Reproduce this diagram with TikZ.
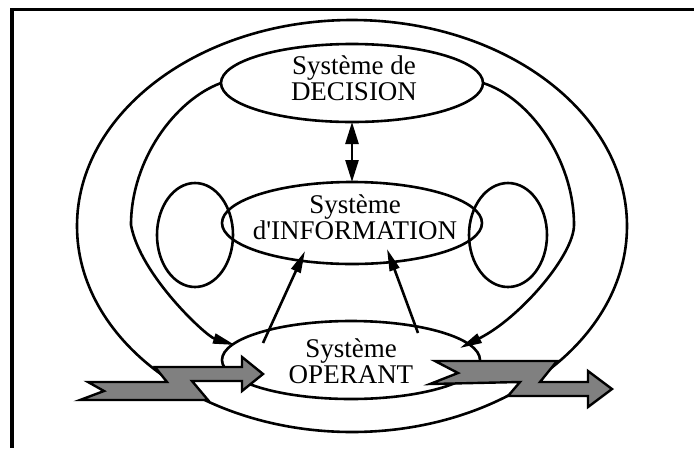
\documentclass[tikz,border=0pt]{standalone}
\usepackage{fontspec}
\setmainfont{Liberation Serif}
% a family without TeX ligatures, so that ' stays a straight apostrophe
\newfontfamily\lblfont{Liberation Serif}
\usetikzlibrary{arrows.meta,shapes.geometric}
\begin{document}
\begin{tikzpicture}[x=1pt,y=-1pt,
  conn/.style={line width=2.6pt},
  sys/.style={draw, ellipse, line width=2.6pt, inner sep=0pt, outer sep=0pt},
  lbl/.style={font=\lblfont\fontsize{27}{26}\selectfont, align=center, inner sep=0pt},
  flux/.style={draw, fill=black!50, line width=2.4pt, line join=miter},
  tip/.style={-{Triangle[length=22pt,width=10pt]}},
  dtip/.style={{Triangle[length=22pt,width=13pt]}-{Triangle[length=22pt,width=13pt]}},
  ]
\useasboundingbox[fill=white] (0,0) rectangle (694,448);
% frame (top and left edges)
\draw[line width=3.2pt] (694,9.5) -- (12,9.5) -- (12,448);

% the enclosing loop
\node[sys, minimum width=550pt, minimum height=412pt] (outer) at (352,226) {};

% the three subsystems
\node[sys, minimum width=262pt, minimum height=78pt] (dec) at (352,83) {};
\node[sys, minimum width=260pt, minimum height=82pt] (inf) at (352,223) {};
\node[sys, minimum width=258pt, minimum height=78pt] (op) at (351,360) {};

% feedback loops on the information system
\node[sys, minimum width=76pt, minimum height=104pt] (loopL) at (195,235) {};
\node[sys, minimum width=78pt, minimum height=104pt] (loopR) at (508,235) {};

% decision -> operating system (left and right)
\draw[conn, tip] (dec.west) .. controls (175,100) and (131,160) .. (131,225)
  .. controls (140,275) and (206,336) .. ([shift={(-116,-15)}]op.center);
\draw[conn, tip] (dec.east) .. controls (530,98) and (574,160) .. (574,225)
  .. controls (574,255) and (520,318) .. ([shift={(109,-12)}]op.center);

% decision <-> information
\draw[conn, dtip] (dec.south) -- (inf.north);

% operating -> information
\draw[conn, tip] ([shift={(-88,-17)}]op.center) -- ([shift={(-47,28)}]inf.center);
\draw[conn, tip] ([shift={(67,-27)}]op.center) -- ([shift={(35,26)}]inf.center);

% incoming flow
\draw[flux] (88,382) -- (167,382) -- (155,367) -- (242,367) -- (242,357)
  -- (263,374) -- (242,391) -- (242,381) -- (192,381) -- (208,400)
  -- (80,400) -- (104,391) -- cycle;
% outgoing flow
\draw[flux] (435,361) -- (557,361) -- (540,382) -- (588,382) -- (588,371)
  -- (612,389) -- (588,407) -- (588,396) -- (508,396) -- (520,382)
  -- (430,384) -- (458,373) -- cycle;

% labels
\node[lbl] (decT) at (354,78) {Système de\\DECISION};
\node[lbl] (infT) at (355,217) {Système\\d'INFORMATION};
\node[lbl] (opT) at (351,361) {Système\\OPERANT};
\end{tikzpicture}
\end{document}
